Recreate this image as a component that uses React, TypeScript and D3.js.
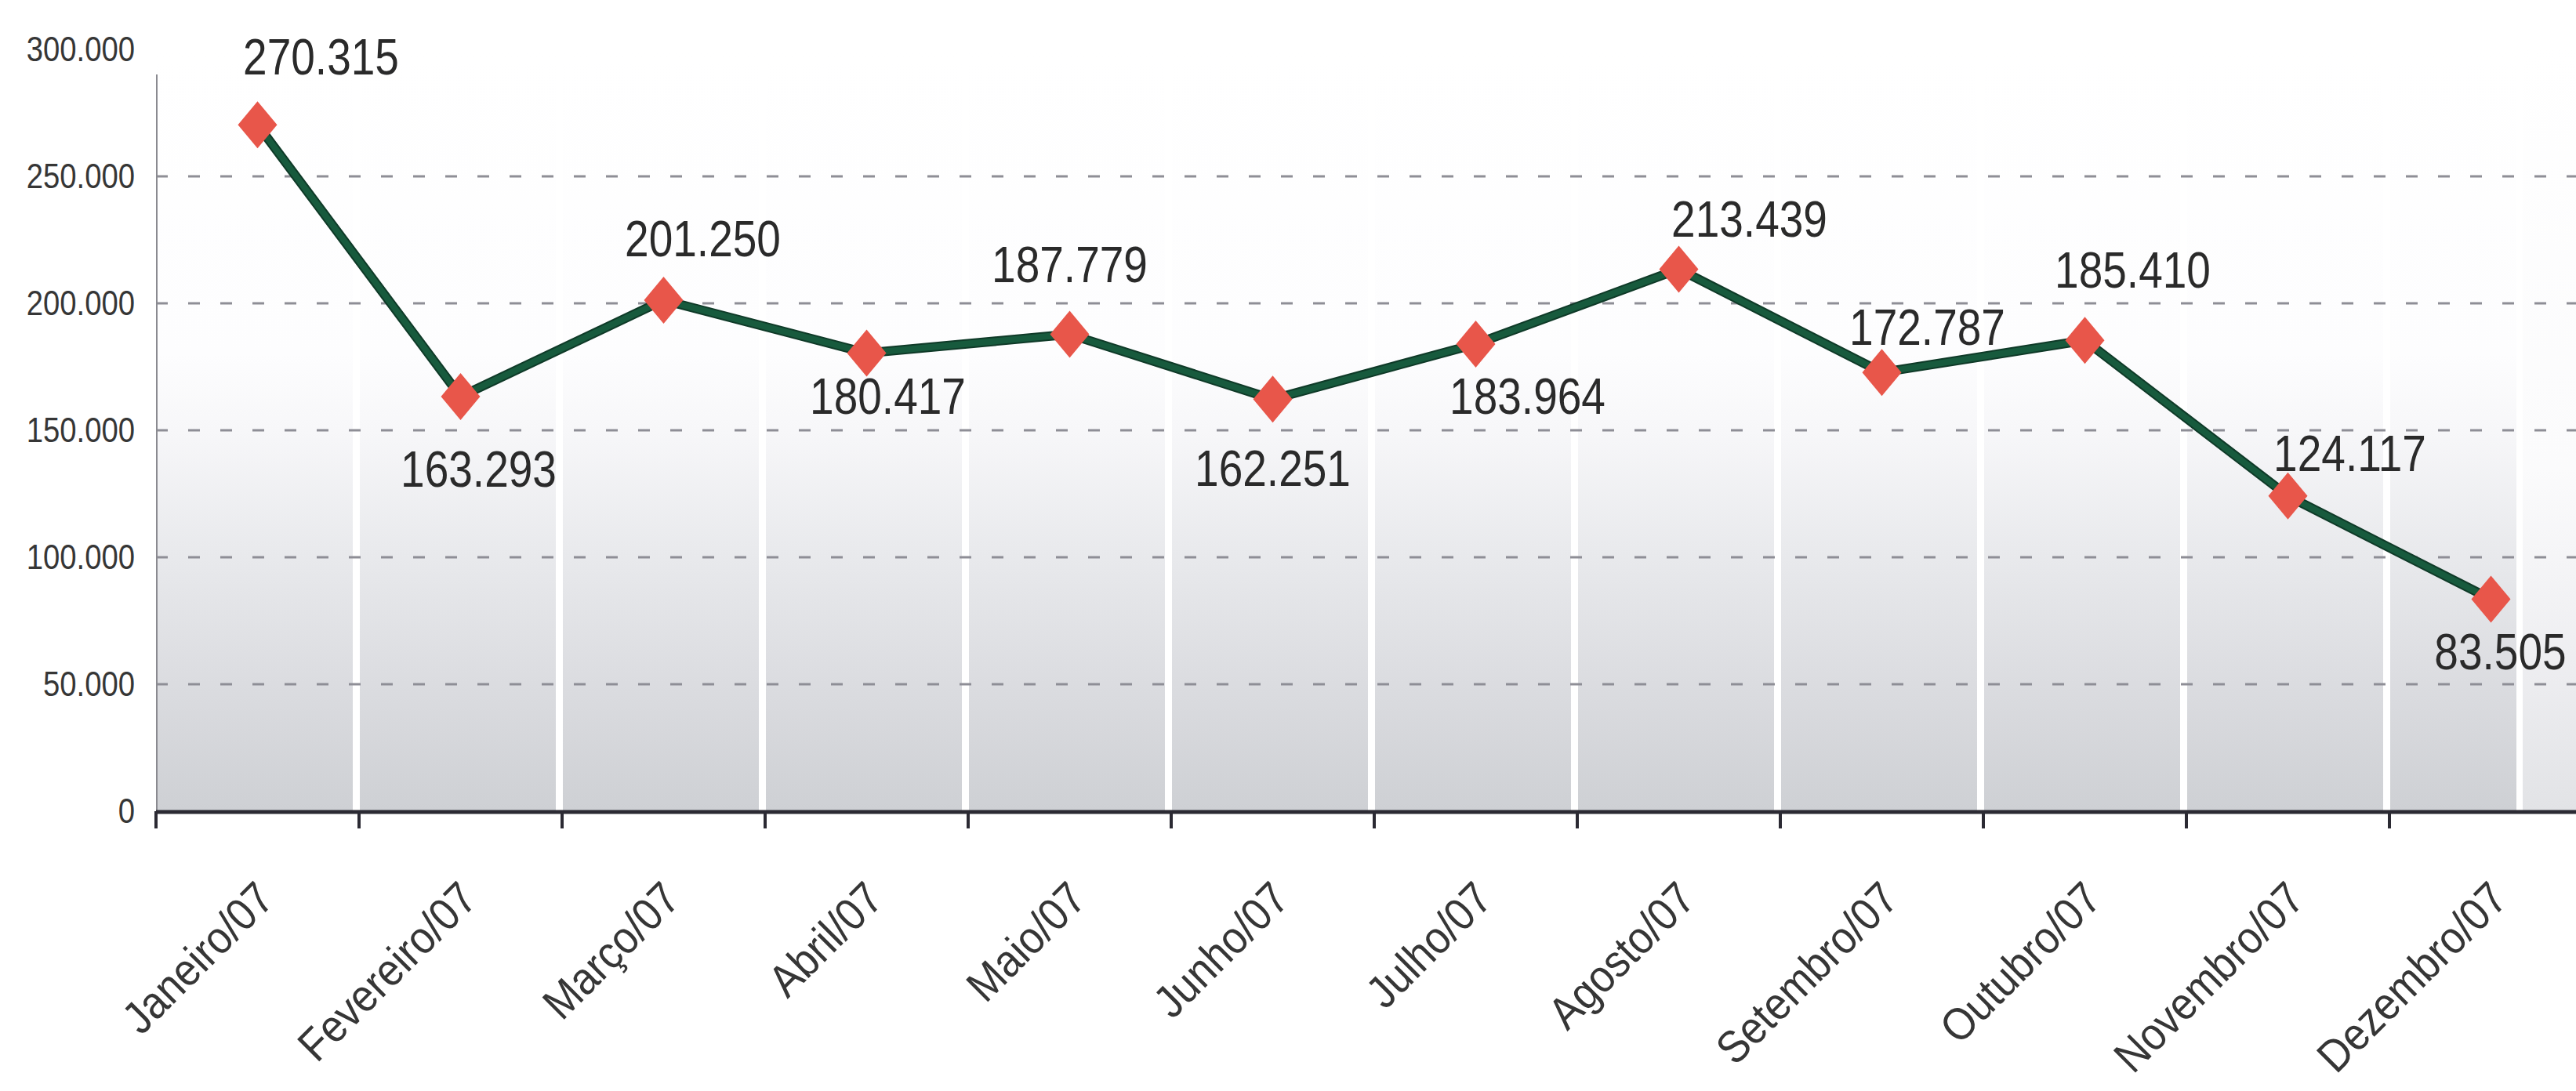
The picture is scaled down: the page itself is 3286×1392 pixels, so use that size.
import { useEffect, useRef } from 'react'
import * as d3 from 'd3'

// monthly totals, 2007
const months = ['Janeiro/07', 'Fevereiro/07', 'Março/07', 'Abril/07', 'Maio/07', 'Junho/07', 'Julho/07', 'Agosto/07', 'Setembro/07', 'Outubro/07', 'Novembro/07', 'Dezembro/07']
const values = [270315, 163293, 201250, 180417, 187779, 162251, 183964, 213439, 172787, 185410, 124117, 83505]
const yTicks = [0, 50000, 100000, 150000, 200000, 250000, 300000]
const gridTicks = [50000, 100000, 150000, 200000, 250000]

// hand placed value labels (offset from marker: centre dx, baseline dy)
const labelDx = [81, 23, 50, 27, 0, 0, 66, 90, 58, 61, 79, 12]
const labelDy = [-64, 115, -56, 78, -67, 111, 89, -41, -35, -67, -32, 90]

const ptBR = d3.formatLocale({ decimal: ',', thousands: '.', grouping: [3], currency: ['R$ ', ''] })
const fmt = ptBR.format(',d')

export default function App() {
  const svgRef = useRef<SVGSVGElement>(null)

  useEffect(() => {
    const W = 3286, H = 1392
    const FONT = '"Liberation Sans", Arial, sans-serif'
    const C = {
      text: '#2a2a2a',
      tick: '#363636',
      grid: '#8e8e96',
      axis: '#2b2a33',
      line: '#175a3d',
      marker: '#e8564a',
    }

    const svg = d3.select(svgRef.current)
    svg.selectAll('*').remove()
    svg.attr('width', W).attr('height', H).style('background', '#ffffff')

    const x0 = 199, step = 259
    const x = d3.scaleBand<string>().domain(months).range([x0, x0 + step * months.length])
    const y = d3.scaleLinear().domain([0, 300000]).range([1035, 63])
    const cx = (m: string) => (x(m) as number) + x.bandwidth() / 2

    // ── background gradient columns ─────────────────────────────
    const defs = svg.append('defs')
    const g1 = defs.append('linearGradient').attr('id', 'colGrad').attr('gradientUnits', 'userSpaceOnUse')
      .attr('x1', 0).attr('x2', 0).attr('y1', y(300000)).attr('y2', y(0))
    ;[[0, '#ffffff'], [0.4, '#fdfdfe'], [0.5, '#f7f7f9'], [0.667, '#e8e9ec'], [0.833, '#dbdce0'], [1, '#ced0d4']]
      .forEach(([o, c]) => g1.append('stop').attr('offset', o as number).attr('stop-color', c as string))
    const g2 = defs.append('linearGradient').attr('id', 'lightGrad').attr('gradientUnits', 'userSpaceOnUse')
      .attr('x1', 0).attr('x2', 0).attr('y1', y(300000)).attr('y2', y(0))
    ;[[0, '#ffffff'], [0.55, '#fbfbfc'], [0.8, '#eeeef1'], [1, '#e2e3e6']]
      .forEach(([o, c]) => g2.append('stop').attr('offset', o as number).attr('stop-color', c as string))

    months.forEach((m, i) => {
      const left = (x(m) as number) + 1
      let right = (x(m) as number) + step - 8
      if (i === months.length - 1) right = Math.min(right, 3210)
      svg.append('rect').attr('x', left).attr('y', y(300000)).attr('width', right - left).attr('height', y(0) - y(300000)).attr('fill', 'url(#colGrad)')
    })
    svg.append('rect').attr('x', 3218).attr('y', y(300000)).attr('width', W - 3218).attr('height', y(0) - y(300000)).attr('fill', 'url(#lightGrad)')

    // ── grid ────────────────────────────────────────────────────
    gridTicks.forEach(v => {
      svg.append('line').attr('x1', x0).attr('x2', W).attr('y1', y(v)).attr('y2', y(v))
        .attr('stroke', C.grid).attr('stroke-width', 3).attr('stroke-dasharray', '15 26')
    })

    // axes
    svg.append('line').attr('x1', x0 + 1).attr('x2', x0 + 1).attr('y1', 95).attr('y2', y(0)).attr('stroke', '#8a8a90').attr('stroke-width', 2)
    svg.append('line').attr('x1', x0).attr('x2', W).attr('y1', y(0) + 1).attr('y2', y(0) + 1).attr('stroke', C.axis).attr('stroke-width', 5)
    d3.range(months.length + 1).forEach(i => {
      const bx = x0 + i * step
      svg.append('line').attr('x1', bx).attr('x2', bx).attr('y1', y(0)).attr('y2', y(0) + 22).attr('stroke', C.axis).attr('stroke-width', 4)
    })

    // y tick labels
    yTicks.forEach(v => {
      svg.append('text').attr('transform', `translate(172,${y(v)}) scale(0.87,1)`)
        .attr('text-anchor', 'end').attr('dominant-baseline', 'central')
        .attr('font-family', FONT).attr('font-size', 44).attr('fill', C.tick).text(fmt(v))
    })

    // x labels
    months.forEach(m => {
      svg.append('text').attr('transform', `translate(${cx(m) + 24},1150) rotate(-45) scale(0.9,1)`)
        .attr('text-anchor', 'end').attr('font-family', FONT).attr('font-size', 58).attr('fill', C.tick).text(m)
    })

    // ── series ──────────────────────────────────────────────────
    const pts: [number, number][] = months.map((m, i) => [cx(m), y(values[i])])
    svg.append('path').datum(pts).attr('fill', 'none').attr('stroke', '#0f3a28').attr('stroke-width', 12)
      .attr('stroke-linejoin', 'round').attr('d', d3.line())
    svg.append('path').datum(pts).attr('fill', 'none').attr('stroke', C.line).attr('stroke-width', 8)
      .attr('stroke-linejoin', 'round').attr('d', d3.line())

    const hw = 25, hh = 30
    pts.forEach(([px, py]) => {
      svg.append('path').attr('d', `M${px},${py - hh}L${px + hw},${py}L${px},${py + hh}L${px - hw},${py}Z`).attr('fill', C.marker)
    })

    pts.forEach(([px, py], i) => {
      svg.append('text').attr('transform', `translate(${px + labelDx[i]},${py + labelDy[i]}) scale(0.86,1)`)
        .attr('text-anchor', 'middle').attr('font-family', FONT).attr('font-size', 64).attr('fill', C.text).text(fmt(values[i]))
    })
  }, [])

  return <svg ref={svgRef} style={{ position: 'absolute', left: 0, top: 0, display: 'block' }} />
}
